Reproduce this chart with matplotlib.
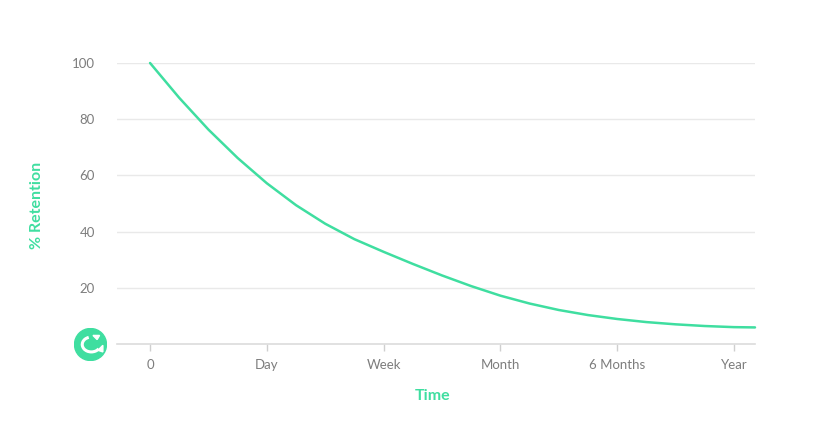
import matplotlib
matplotlib.use("Agg")
import matplotlib.pyplot as plt
import numpy as np
from matplotlib.patches import Circle, Polygon, Arc

# ---- data ----
x_labels = ["0", "Day", "Week", "Month", "6 Months", "Year"]
curve_x = [0, 0.25, 0.5, 0.75, 1.0, 1.25, 1.5, 1.75, 2.0, 2.25, 2.5, 2.75,
           3.0, 3.25, 3.5, 3.75, 4.0, 4.25, 4.5, 4.75, 5.0, 5.18]
curve_y = [100, 87.6, 76.3, 66.2, 57.2, 49.4, 42.8, 37.3, 32.8, 28.5, 24.4, 20.6,
           17.2, 14.4, 12.1, 10.3, 8.9, 7.8, 7.0, 6.4, 6.0, 5.9]
y_ticks = [20, 40, 60, 80, 100]
y_label = "% Retention"
x_label = "Time"

GREEN = "#3fdea0"
GREY_TXT = "#7d7d7d"
GRID = "#e9e9e9"

plt.rcParams['font.family'] = ['Lato', 'DejaVu Sans']

fig = plt.figure(figsize=(8.26, 4.30), dpi=100)
ax = fig.add_axes([117/826, 1-344/430, (755-117)/826, (344-63)/430])

ax.plot(curve_x, curve_y, color=GREEN, lw=1.8, clip_on=False,
        solid_capstyle='round', solid_joinstyle='round')

ax.set_xlim(-0.283, 5.18)
ax.set_ylim(0, 100)
ax.set_xticks(range(len(x_labels)))
ax.set_xticklabels(x_labels)
ax.set_yticks(y_ticks)
ax.set_yticklabels([str(v) for v in y_ticks])

for v in y_ticks:
    ax.axhline(v, color=GRID, lw=1, zorder=0)

for s in ["top", "right", "left"]:
    ax.spines[s].set_visible(False)
ax.spines["bottom"].set_color("#dcdcdc")
ax.spines["bottom"].set_linewidth(1.2)

ax.tick_params(axis='x', colors="#cfcfcf", length=5, width=1, pad=6,
               labelcolor=GREY_TXT, labelsize=9.5)
ax.tick_params(axis='y', length=0, pad=16, labelcolor=GREY_TXT, labelsize=9.5)

fig.text(37/826, 1-205/430, y_label, rotation=90, color=GREEN, fontsize=11.5,
         ha='center', va='center', fontweight='bold')
fig.text(433/826, 1-396/430, x_label, color=GREEN, fontsize=11.5,
         ha='center', va='center', fontweight='bold')

# ---- logo ----
lax = fig.add_axes([74/826, 1-361/430, 33/826, 33/430])
lax.set_xlim(-1, 1)
lax.set_ylim(-1, 1)
lax.set_aspect('equal')
lax.axis('off')
lax.add_patch(Circle((0, 0), 0.97, color=GREEN))
lax.add_patch(Arc((0.05, 0.0), 1.1, 0.9, theta1=110, theta2=330, color="white", lw=2.2))
lax.add_patch(Polygon([[0.15, 0.55], [0.55, 0.55], [0.4, 0.3]], color="white"))
lax.add_patch(Polygon([[0.45, -0.35], [0.75, -0.05], [0.75, -0.45]], color="white"))

fig.savefig("out.png", dpi=100, facecolor="white")
